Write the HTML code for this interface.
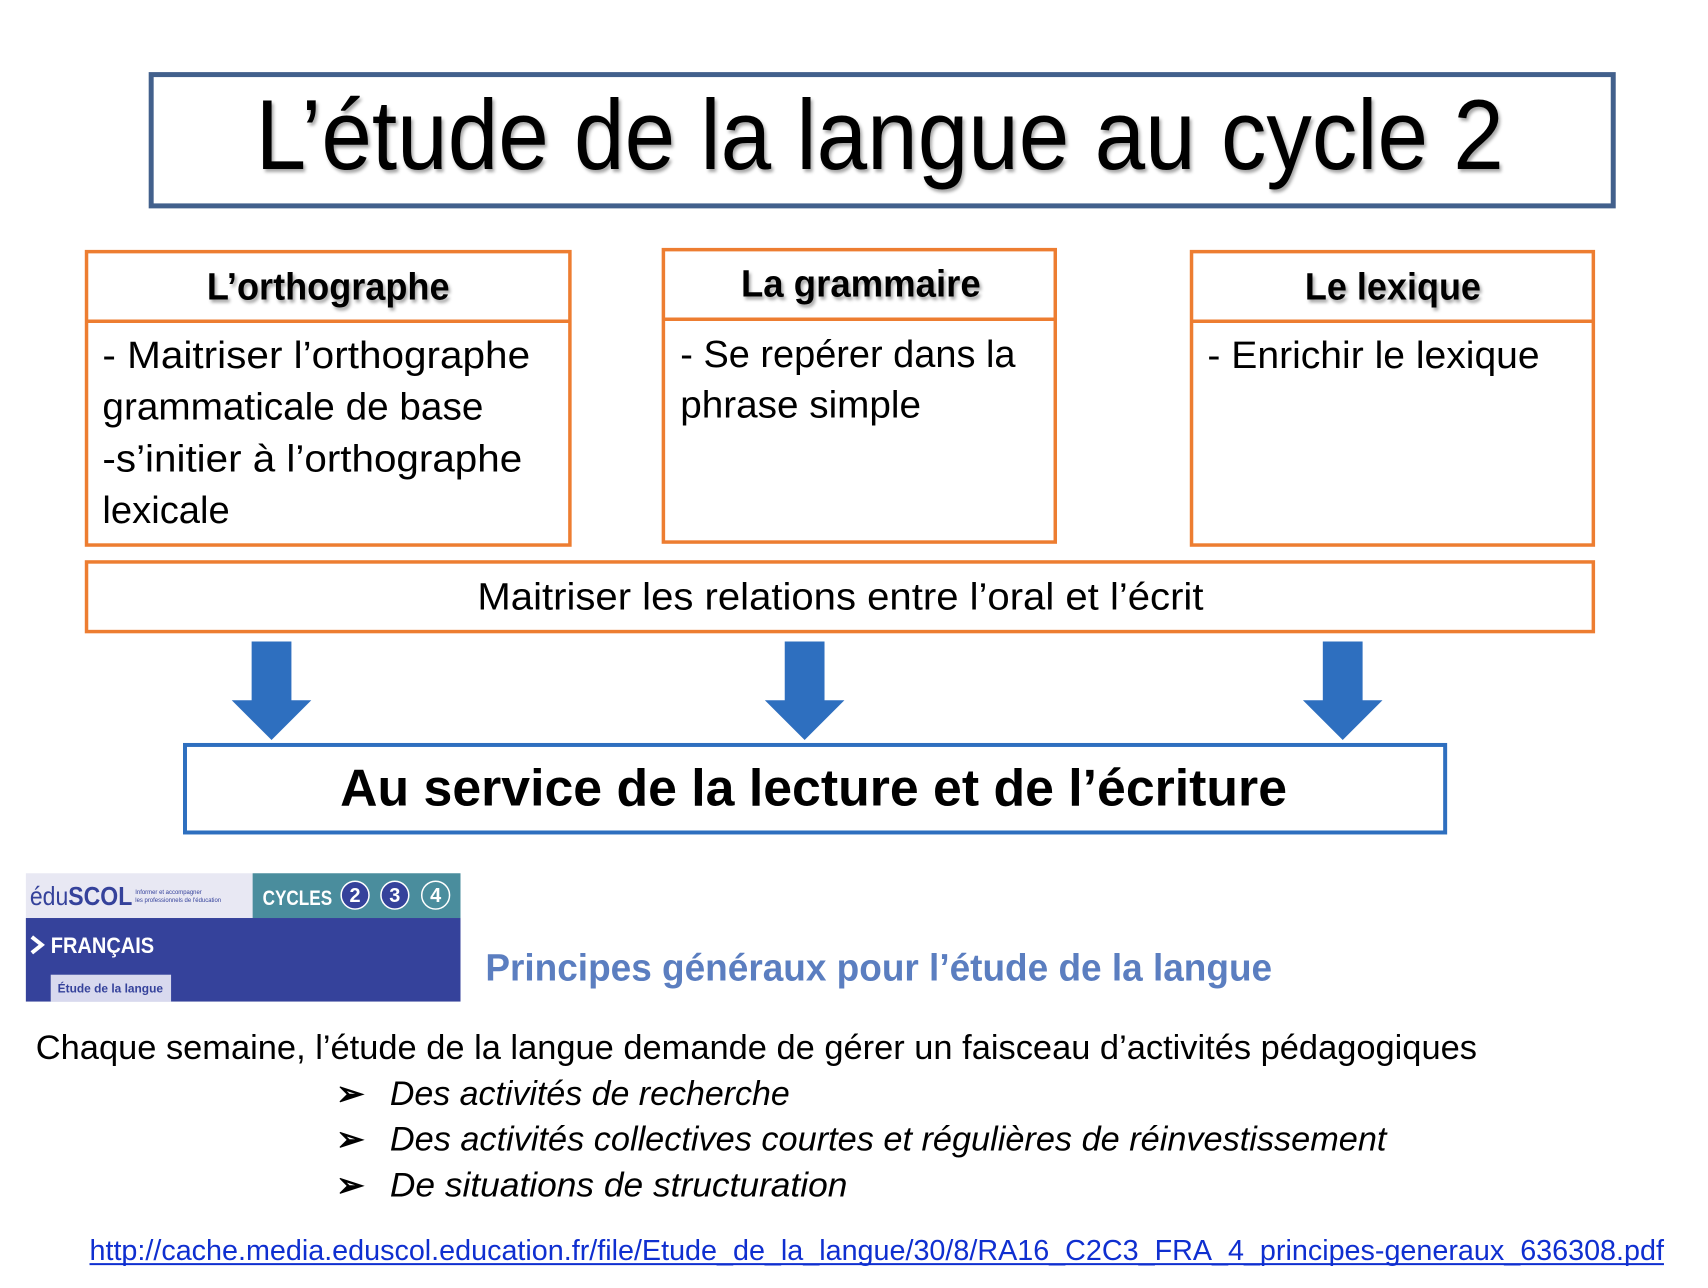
<!DOCTYPE html>
<html><head><meta charset="utf-8"><style>html,body{margin:0;padding:0;background:#fff}svg{display:block}</style></head>
<body>
<svg width="1708" height="1288" viewBox="0 0 1708 1288" xmlns="http://www.w3.org/2000/svg" font-family="Liberation Sans, sans-serif">
<defs>
<filter id="sh" x="-5%" y="-5%" width="110%" height="120%"><feDropShadow dx="2" dy="3" stdDeviation="1.5" flood-color="#000" flood-opacity="0.35"/></filter>
</defs>
<rect x="0" y="0" width="1708" height="1288" fill="#fff"/>
<g transform="scale(0.9946)">
<!-- Title -->
<rect x="152" y="75" width="1470" height="132" fill="#fff" stroke="#42608c" stroke-width="5"/>
<text x="257" y="170" font-size="100" textLength="1255" lengthAdjust="spacingAndGlyphs" filter="url(#sh)">L’étude de la langue au cycle 2</text>

<!-- Boxes -->
<g fill="none" stroke="#ed7d31" stroke-width="3.5">
<rect x="87" y="253" width="486" height="295"/>
<line x1="87" y1="323" x2="573" y2="323"/>
<rect x="667" y="251" width="394" height="294"/>
<line x1="667" y1="321" x2="1061" y2="321"/>
<rect x="1198" y="253" width="404" height="295"/>
<line x1="1198" y1="323" x2="1602" y2="323"/>
<rect x="87" y="565" width="1515" height="70"/>
</g>
<g font-weight="bold" font-size="38" filter="url(#sh)">
<text x="208" y="301" textLength="244" lengthAdjust="spacingAndGlyphs">L’orthographe</text>
<text x="745" y="298" textLength="241" lengthAdjust="spacingAndGlyphs">La grammaire</text>
<text x="1312" y="301" textLength="177" lengthAdjust="spacingAndGlyphs">Le lexique</text>
</g>
<g font-size="38">
<text x="103" y="370" textLength="430" lengthAdjust="spacingAndGlyphs">- Maitriser l’orthographe</text>
<text x="103" y="422" textLength="383" lengthAdjust="spacingAndGlyphs">grammaticale de base</text>
<text x="103" y="474" textLength="422" lengthAdjust="spacingAndGlyphs">-s’initier à l’orthographe</text>
<text x="103" y="526" textLength="128" lengthAdjust="spacingAndGlyphs">lexicale</text>
<text x="684" y="369" textLength="337" lengthAdjust="spacingAndGlyphs">- Se repérer dans la</text>
<text x="684" y="420" textLength="242" lengthAdjust="spacingAndGlyphs">phrase simple</text>
<text x="1214" y="370" textLength="334" lengthAdjust="spacingAndGlyphs">- Enrichir le lexique</text>
<text x="480" y="613" textLength="730" lengthAdjust="spacingAndGlyphs">Maitriser les relations entre l’oral et l’écrit</text>
</g>

<!-- Arrows -->
<g fill="#2e6fbf">
<polygon points="253,645 293,645 293,704 313,704 273,744 233,704 253,704"/>
<polygon points="789,645 829,645 829,704 849,704 809,744 769,704 789,704"/>
<polygon points="1330,645 1370,645 1370,704 1390,704 1350,744 1310,704 1330,704"/>
</g>

<!-- Bottom box -->
<rect x="186" y="749" width="1267" height="88" fill="#fff" stroke="#2e6fbf" stroke-width="4"/>
<text x="342" y="810" font-size="52" font-weight="bold" textLength="952" lengthAdjust="spacingAndGlyphs">Au service de la lecture et de l’écriture</text>

<!-- Logo -->
<rect x="26" y="878" width="228" height="45" fill="#e8e8f3"/>
<rect x="254" y="878" width="209" height="45" fill="#4a8d9d"/>
<rect x="26" y="923" width="437" height="84" fill="#35429b"/>
<rect x="51" y="980" width="121" height="27" fill="#d8d9ee"/>
<text x="30" y="910" font-size="26" fill="#35429b" textLength="103" lengthAdjust="spacingAndGlyphs">édu<tspan font-weight="bold">SCOL</tspan></text>
<text x="136" y="899" font-size="6" fill="#35429b">Informer et accompagner</text>
<text x="136" y="907" font-size="6" fill="#35429b">les professionnels de l'éducation</text>
<text x="264" y="910" font-size="21" font-weight="bold" fill="#fff" textLength="70" lengthAdjust="spacingAndGlyphs">CYCLES</text>
<circle cx="357" cy="900" r="14" fill="#35429b" stroke="#fff" stroke-width="1.5"/>
<circle cx="397" cy="900" r="14" fill="#35429b" stroke="#fff" stroke-width="1.5"/>
<circle cx="438" cy="900" r="14" fill="none" stroke="#fff" stroke-width="1.5"/>
<g font-size="20" font-weight="bold" fill="#fff" text-anchor="middle"><text x="357" y="907">2</text><text x="397" y="907">3</text><text x="438" y="907">4</text></g>
<polyline points="32,942 42,950 32,958" fill="none" stroke="#fff" stroke-width="4"/>
<text x="51" y="958" font-size="22" font-weight="bold" fill="#fff" textLength="104" lengthAdjust="spacingAndGlyphs">FRANÇAIS</text>
<text x="58" y="998" font-size="12" font-weight="bold" fill="#35429b">Étude de la langue</text>

<text x="488" y="986" font-size="38" font-weight="bold" fill="#5b7ec0" textLength="791" lengthAdjust="spacingAndGlyphs">Principes généraux pour l’étude de la langue</text>

<text x="36" y="1065" font-size="34" textLength="1449" lengthAdjust="spacingAndGlyphs">Chaque semaine, l’étude de la langue demande de gérer un faisceau d’activités pédagogiques</text>
<g font-size="34" font-weight="bold">
<text x="338" y="1111">➢</text><text x="338" y="1157">➢</text><text x="338" y="1203">➢</text>
</g>
<g font-size="34" font-style="italic">
<text x="392" y="1111" textLength="402" lengthAdjust="spacingAndGlyphs">Des activités de recherche</text>
<text x="392" y="1157" textLength="1002" lengthAdjust="spacingAndGlyphs">Des activités collectives courtes et régulières de réinvestissement</text>
<text x="392" y="1203" textLength="460" lengthAdjust="spacingAndGlyphs">De situations de structuration</text>
</g>
<text x="90" y="1267" font-size="29" fill="#0f2fd0" textLength="1583" lengthAdjust="spacingAndGlyphs">http://cache.media.eduscol.education.fr/file/Etude_de_la_langue/30/8/RA16_C2C3_FRA_4_principes-generaux_636308.pdf</text>
<line x1="90" y1="1271" x2="1673" y2="1271" stroke="#0f2fd0" stroke-width="2"/>
</g>
</svg>
</body></html>
